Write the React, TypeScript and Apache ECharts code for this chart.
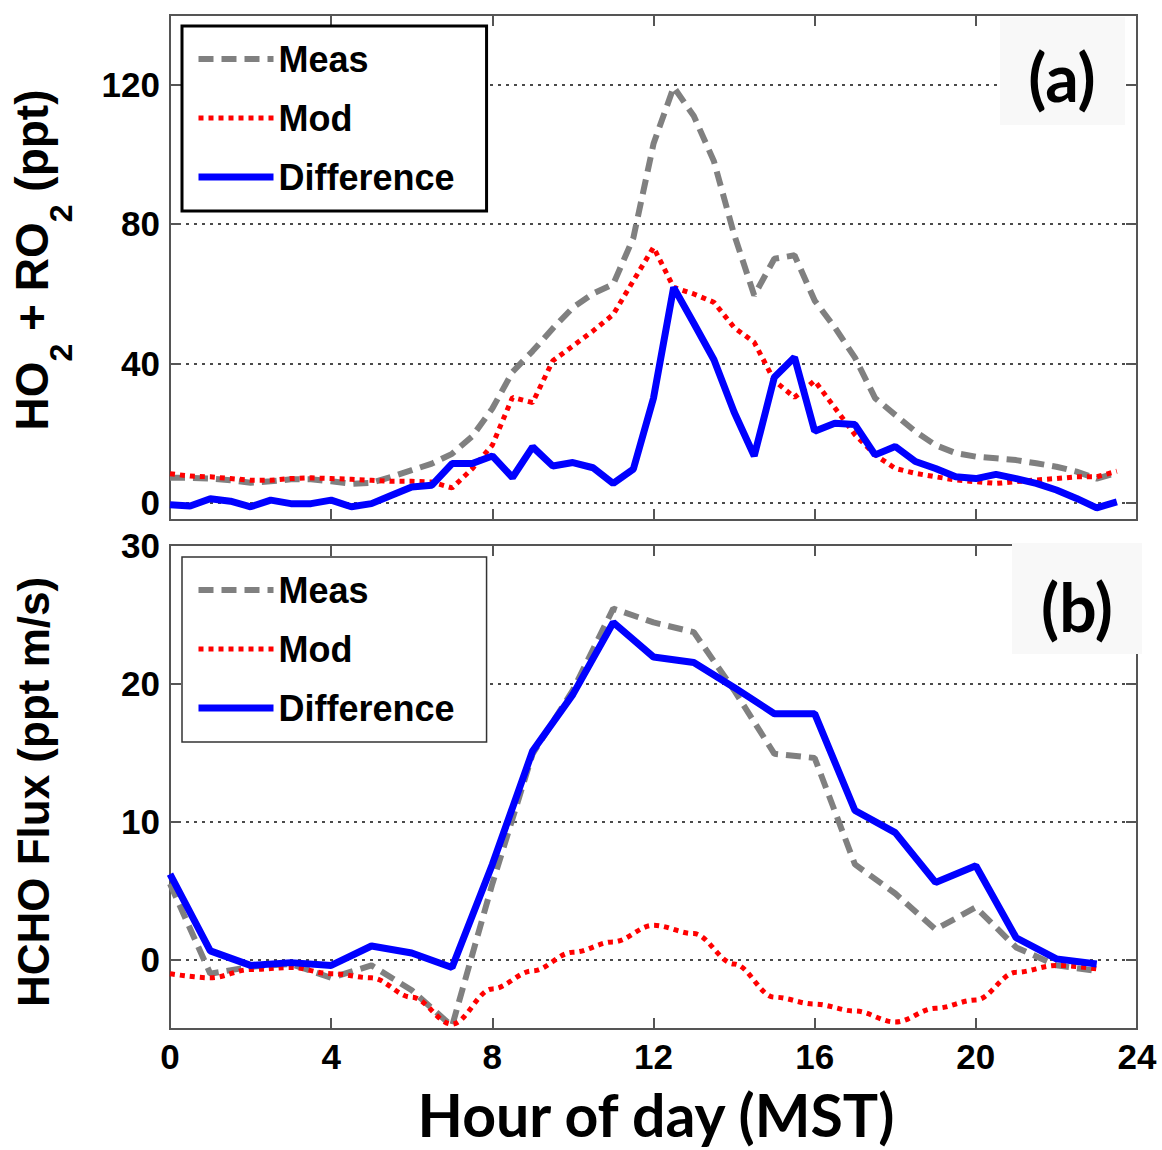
import React, { useEffect, useRef } from "react";
import * as echarts from "echarts";

// ---------- DATA ----------
const hoursHalf = [
  0, 0.5, 1, 1.5, 2, 2.5, 3, 3.5, 4, 4.5, 5, 5.5, 6, 6.5, 7, 7.5, 8, 8.5, 9, 9.5,
  10, 10.5, 11, 11.5, 12, 12.5, 13, 13.5, 14, 14.5, 15, 15.5, 16, 16.5, 17, 17.5,
  18, 18.5, 19, 19.5, 20, 20.5, 21, 21.5, 22, 22.5, 23, 23.5,
];
const ho2Meas = [
  7.1, 7.1, 6.9, 6.4, 5.7, 6.1, 6.7, 6.7, 6.1, 5.4, 5.7, 7.4, 9.3, 11.2, 14, 19,
  27, 37.5, 43.5, 50, 56, 60, 62.7, 76, 103, 119.3, 111, 98, 77, 59.5, 70, 71,
  58, 50.3, 41.6, 30, 25.2, 20.4, 16.5, 14.2, 13.2, 12.7, 12.2, 11.3, 10.3, 8.9, 6.9, 8.5,
];
const ho2Mod = [
  8.3, 7.6, 7.4, 6.9, 6.4, 6.4, 6.9, 7.1, 6.9, 6.7, 6.4, 6.1, 6.1, 5.9, 4.2, 9.7,
  16.5, 30.2, 28.7, 40.7, 45, 49.3, 54, 63.7, 73.3, 61.8, 59.9, 57.5, 50.3, 46, 35, 30.2,
  35, 27.2, 19.5, 13.7, 9.8, 8.4, 7.4, 6.5, 6, 5.5, 6, 6.5, 6.9, 7.4, 7.4, 9,
];
const ho2Diff = [
  -0.6, -1, 1.1, 0.4, -1.2, 0.7, -0.3, -0.3, 0.7, -1.2, -0.3, 2.1, 4.5, 5, 11.2, 11.2,
  13.4, 7.2, 16, 10.5, 11.5, 10, 5.5, 9.6, 30, 61.8, 51.5, 41, 26, 13.4, 36, 41.7,
  20.5, 22.8, 22.4, 13.7, 16.1, 11.8, 9.8, 7.4, 6.9, 8.1, 6.9, 5.5, 3.6, 1.2, -1.5, 0.2,
];

const hoursHourly = [
  0, 1, 2, 3, 4, 5, 6, 7, 8, 9, 10, 11, 12, 13, 14, 15, 16, 17, 18, 19, 20, 21, 22, 23,
];
const fluxMeas = [
  5.5, -1.0, -0.5, -0.3, -1.3, -0.4, -2.2, -4.8, 5.5, 14.9, 19.5, 25.4, 24.4, 23.7,
  19.5, 14.9, 14.6, 6.9, 4.8, 2.2, 3.8, 0.9, -0.4, -0.8,
];
const fluxMod = [
  -1.0, -1.3, -0.7, -0.55, -1.0, -1.3, -2.7, -4.65, -2.1, -0.8, 0.55, 1.3, 2.5, 1.9,
  -0.3, -2.7, -3.2, -3.7, -4.5, -3.5, -2.9, -0.9, -0.4, -0.65,
];
const fluxDiff = [
  6.2, 0.65, -0.4, -0.2, -0.4, 1.0, 0.5, -0.55, 6.9, 15.1, 19.2, 24.4, 21.9, 21.5,
  19.7, 17.8, 17.8, 10.8, 9.2, 5.6, 6.8, 1.6, 0.07, -0.3,
];

const seriesNames = ["Meas", "Mod", "Difference"];
const xTitle = "Hour of day (MST)";
const topLabel = "(a)";
const bottomLabel = "(b)";

// ---------- STYLES ----------
const AX = "#555555";
const SANS = "Liberation Sans";
const HUMAN = "Lato";
const measStyle = { color: "#808080", width: 6, type: [15, 8] as number[] };
const modStyle = { color: "#ff0000", width: 5, type: [5, 5] as number[] };
const diffStyle = { color: "#0000ff", width: 7, type: "solid" as const };

const pairs = (xs: number[], ys: number[]) => xs.map((x, i) => [x, ys[i]]);

function xAxisDef(gridIndex: number, position: "top" | "bottom", labels: boolean) {
  return {
    type: "value",
    gridIndex,
    position,
    min: 0,
    max: 24,
    interval: 4,
    axisLine: { show: true, onZero: false, lineStyle: { color: AX, width: 2 } },
    axisTick: { show: true, inside: true, length: 11, lineStyle: { color: AX, width: 2 } },
    axisLabel: {
      show: labels,
      margin: 10,
      fontFamily: SANS,
      fontWeight: "bold",
      fontSize: 35,
      lineHeight: 34,
      color: "#000",
      showMinLabel: true,
      showMaxLabel: true,
    },
    splitLine: { show: false },
  };
}

function yAxisDef(
  gridIndex: number,
  position: "left" | "right",
  min: number,
  max: number,
  step: number,
  labels: boolean
) {
  return {
    type: "value",
    gridIndex,
    position,
    min,
    max,
    minInterval: step,
    maxInterval: step,
    splitNumber: Math.round((max - min) / step),
    axisLine: { show: true, onZero: false, lineStyle: { color: AX, width: 2 } },
    axisTick: { show: true, inside: true, length: 11, lineStyle: { color: AX, width: 2 } },
    axisLabel: {
      show: labels,
      margin: 10,
      fontFamily: SANS,
      fontWeight: "bold",
      fontSize: 35,
      color: "#000",
      formatter: (v: number) => (Math.abs(v % step) < 1e-9 && v <= max && v >= 0 ? String(v) : ""),
    },
    splitLine: {
      show: labels,
      lineStyle: { color: "#4a4a4a", width: 2, type: [3, 5] },
    },
  };
}

const hiddenSymbol = { opacity: 0, color: "transparent", borderWidth: 0 };

function legendDef(top: number, borderColor: string, borderWidth: number) {
  return {
    orient: "vertical",
    left: 182,
    top,
    padding: [15, 32, 16, 13],
    itemGap: 23,
    itemWidth: 75,
    itemHeight: 36,
    backgroundColor: "#ffffff",
    borderColor,
    borderWidth,
    selectedMode: false,
    textStyle: {
      fontFamily: SANS,
      fontWeight: "bold",
      fontSize: 36,
      color: "#000",
    },
    data: [
      { name: seriesNames[0], lineStyle: measStyle, itemStyle: hiddenSymbol },
      { name: seriesNames[1], lineStyle: modStyle, itemStyle: hiddenSymbol },
      { name: seriesNames[2], lineStyle: diffStyle, itemStyle: hiddenSymbol },
    ],
  };
}

function lineSeries(
  name: string,
  xi: number,
  yi: number,
  data: number[][],
  style: any,
  z: number,
  smooth: number | boolean = false
) {
  return {
    type: "line",
    name,
    xAxisIndex: xi,
    yAxisIndex: yi,
    data,
    symbol: "none",
    smooth,
    smoothMonotone: "x",
    z,
    lineStyle: { color: style.color, width: style.width, type: style.type },
    itemStyle: { color: style.color },
  };
}

const labelBoxFill = "#f8f8f8";

const option: any = {
  animation: false,
  backgroundColor: "#ffffff",
  grid: [
    { left: 170, top: 15, width: 967, height: 505, show: true, borderColor: AX, borderWidth: 2, backgroundColor: "transparent", outerBoundsMode: "none", containLabel: false },
    { left: 170, top: 545, width: 967, height: 484, show: true, borderColor: AX, borderWidth: 2, backgroundColor: "transparent", outerBoundsMode: "none", containLabel: false },
  ],
  xAxis: [
    xAxisDef(0, "bottom", false),
    xAxisDef(0, "top", false),
    xAxisDef(1, "bottom", true),
    xAxisDef(1, "top", false),
  ],
  yAxis: [
    yAxisDef(0, "left", -5, 140, 40, true),
    yAxisDef(0, "right", -5, 140, 40, false),
    yAxisDef(1, "left", -5, 30, 10, true),
    yAxisDef(1, "right", -5, 30, 10, false),
  ],
  legend: [legendDef(26, "#000000", 3), legendDef(557, "#333333", 1.5)],
  series: [
    lineSeries(seriesNames[0], 0, 0, pairs(hoursHalf, ho2Meas), measStyle, 3),
    lineSeries(seriesNames[1], 0, 0, pairs(hoursHalf, ho2Mod), modStyle, 4),
    lineSeries(seriesNames[2], 0, 0, pairs(hoursHalf, ho2Diff), diffStyle, 5),
    lineSeries(seriesNames[0], 2, 2, pairs(hoursHourly, fluxMeas), measStyle, 3),
    lineSeries(seriesNames[1], 2, 2, pairs(hoursHourly, fluxMod), modStyle, 4, 0.35),
    lineSeries(seriesNames[2], 2, 2, pairs(hoursHourly, fluxDiff), diffStyle, 5),
  ],
  graphic: [
    {
      type: "text",
      x: 43,
      y: 260,
      rotation: Math.PI / 2,
      z: 20,
      style: {
        text: "{b|HO}{s|2}{b| + RO}{s|2}{b| (ppt)}",
        align: "center",
        verticalAlign: "middle",
        rich: {
          b: { fontSize: 46, fontWeight: "bold", fontFamily: SANS, lineHeight: 46, verticalAlign: "top", fill: "#000" },
          s: { fontSize: 32, fontWeight: "bold", fontFamily: SANS, lineHeight: 68, verticalAlign: "bottom", fill: "#000" },
        },
      },
    },
    {
      type: "text",
      x: 33,
      y: 792,
      rotation: Math.PI / 2,
      z: 20,
      style: {
        text: "HCHO Flux (ppt m/s)",
        align: "center",
        verticalAlign: "middle",
        fontSize: 44,
        fontWeight: "bold",
        fontFamily: SANS,
        fill: "#000",
      },
    },
    {
      type: "text",
      x: 656,
      y: 1114,
      z: 20,
      style: {
        text: xTitle,
        align: "center",
        verticalAlign: "middle",
        fontSize: 59,
        lineHeight: 58,
        fontWeight: "bold",
        fontFamily: HUMAN,
        fill: "#000",
      },
    },
    { type: "rect", z: 30, shape: { x: 1000, y: 17, width: 125, height: 108 }, style: { fill: labelBoxFill } },
    {
      type: "text",
      x: 1062,
      y: 76,
      z: 31,
      style: { text: topLabel, align: "center", verticalAlign: "middle", fontSize: 66, fontWeight: "bold", fontFamily: HUMAN, fill: "#000" },
    },
    { type: "rect", z: 30, shape: { x: 1012, y: 543, width: 130, height: 111 }, style: { fill: labelBoxFill } },
    {
      type: "text",
      x: 1077,
      y: 606,
      z: 31,
      style: { text: bottomLabel, align: "center", verticalAlign: "middle", fontSize: 66, fontWeight: "bold", fontFamily: HUMAN, fill: "#000" },
    },
  ],
};

export default function App() {
  const ref = useRef<HTMLDivElement>(null);
  useEffect(() => {
    if (!ref.current) return;
    const chart = echarts.init(ref.current, null, { renderer: "svg" });
    chart.setOption(option);
    return () => chart.dispose();
  }, []);
  return (
    <div
      ref={ref}
      style={{ position: "absolute", left: 0, top: 0, width: 1162, height: 1150, background: "#ffffff" }}
    />
  );
}
